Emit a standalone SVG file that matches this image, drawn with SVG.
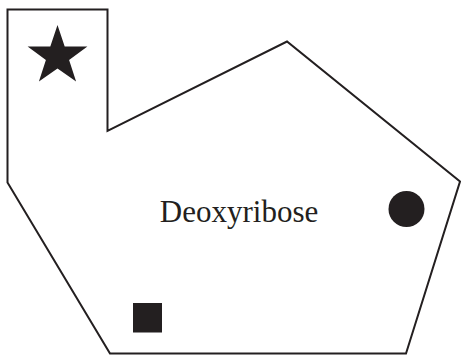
<svg xmlns="http://www.w3.org/2000/svg" width="461" height="355" viewBox="0 0 461 355">
<style>
.outline{fill:none;stroke:#231f20;stroke-width:2;stroke-linejoin:miter}
.mark{fill:#231f20}
.label{font-family:"Liberation Serif","Times New Roman",serif;font-size:31px;fill:#231f20}
</style>
<rect width="461" height="355" fill="#ffffff"/>
<g id="sugar">
<polygon class="outline" points="7.5,9.5 107.5,9.5 107.5,131 287,41.5 460,181.5 406,353.5 110,353.5 7.5,182.5"/>
<text class="label" x="239" y="221.5" text-anchor="middle">Deoxyribose</text>
</g>
<g id="star">
<polygon class="mark" points="57.5,25 64.7,46.6 87.4,46.6 69.1,60 76.1,81.6 57.5,68.4 38.9,81.6 45.9,60 27.6,46.6 50.3,46.6"/>
</g>
<g id="circle">
<circle class="mark" cx="406.5" cy="209" r="18"/>
</g>
<g id="square">
<rect class="mark" x="133" y="303" width="29" height="29.5"/>
</g>
</svg>
